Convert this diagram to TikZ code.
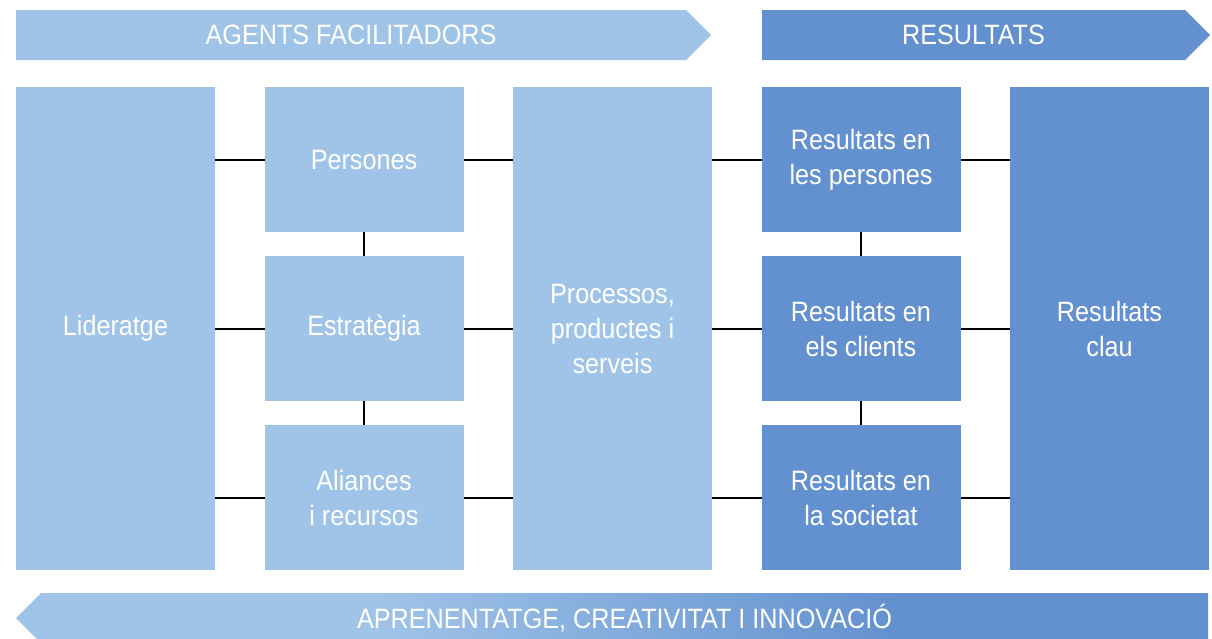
\documentclass[tikz,border=0pt]{standalone}
\usepackage{fontspec}
\setmainfont{Liberation Sans}[FakeStretch=0.9]
\usetikzlibrary{shapes.arrows,positioning}
\definecolor{lightblue}{RGB}{160,196,232}
\definecolor{darkblue}{RGB}{99,145,207}
\pgfdeclarehorizontalshading{learnshade}{100bp}{color(0bp)=(lightblue); color(40bp)=(lightblue); color(62bp)=(darkblue); color(100bp)=(darkblue)}
\newcommand\ys{24pt}
\newcommand\xs{49.5pt}
\begin{document}
\begin{tikzpicture}[x=1pt,y=-1pt,
		myarrow/.style={single arrow,single arrow head extend=0pt,single arrow tip angle=90,minimum width=50pt,inner sep=0pt,outer sep=0pt,text=white,font=\fontsize{28}{35}\selectfont},
		mybox/.style={rectangle,text=white,inner sep=0pt,outer sep=0pt,minimum width=199pt,align=center,font=\fontsize{28}{35}\selectfont},
		tallbox/.style={mybox,minimum height=483pt},
		smallbox/.style={mybox,minimum height=145pt}]
		\useasboundingbox (0,0) rectangle (1212,638);
		% columns
		\node(lid)[tallbox,fill=lightblue,anchor=north west] at (16,87) {Lideratge};
		\node(pers)[smallbox,fill=lightblue,anchor=north west] at ([xshift=\xs]lid.north east) {Persones};
		\node(estr)[smallbox,fill=lightblue,anchor=north] at ([yshift=-\ys]pers.south) {Estratègia};
		\node(alia)[smallbox,fill=lightblue,anchor=north] at ([yshift=-\ys]estr.south) {Aliances\\i recursos};
		\node(proc)[tallbox,fill=lightblue,anchor=north west] at ([xshift=\xs]pers.north east) {Processos,\\productes i\\serveis};
		\node(rpers)[smallbox,fill=darkblue,anchor=north west] at ([xshift=\xs]proc.north east) {Resultats en\\les persones};
		\node(rcli)[smallbox,fill=darkblue,anchor=north] at ([yshift=-\ys]rpers.south) {Resultats en\\els clients};
		\node(rsoc)[smallbox,fill=darkblue,anchor=north] at ([yshift=-\ys]rcli.south) {Resultats en\\la societat};
		\node(clau)[tallbox,fill=darkblue,anchor=north west] at ([xshift=\xs]rpers.north east) {Resultats\\clau};
		% arrows
		\node(agents)[myarrow,fill=lightblue,minimum height=695pt,anchor=tail] at (16,35) {AGENTS FACILITADORS};
		\node(result)[myarrow,fill=darkblue,minimum height=448pt,anchor=tail] at (762,35) {RESULTATS};
		\node(apren)[myarrow,shading=learnshade,shape border rotate=180,minimum height=1192pt,anchor=tail] at (1208,618) {APRENENTATGE, CREATIVITAT I INNOVACIÓ};
		% connectors
		\path [black, line width=2pt] (pers.west -| lid.east) edge (pers.west);
		\path [black, line width=2pt] (estr.west -| lid.east) edge (estr.west);
		\path [black, line width=2pt] (alia.west -| lid.east) edge (alia.west);
		\path [black, line width=2pt] (pers.east) edge (pers.east -| proc.west);
		\path [black, line width=2pt] (estr.east) edge (estr.east -| proc.west);
		\path [black, line width=2pt] (alia.east) edge (alia.east -| proc.west);
		\path [black, line width=2pt] (rpers.west -| proc.east) edge (rpers.west);
		\path [black, line width=2pt] (rcli.west -| proc.east) edge (rcli.west);
		\path [black, line width=2pt] (rsoc.west -| proc.east) edge (rsoc.west);
		\path [black, line width=2pt] (rpers.east) edge (rpers.east -| clau.west);
		\path [black, line width=2pt] (rcli.east) edge (rcli.east -| clau.west);
		\path [black, line width=2pt] (rsoc.east) edge (rsoc.east -| clau.west);
		\path [black, line width=2pt] (pers.south) edge (estr.north);
		\path [black, line width=2pt] (estr.south) edge (alia.north);
		\path [black, line width=2pt] (rpers.south) edge (rcli.north);
		\path [black, line width=2pt] (rcli.south) edge (rsoc.north);
	\end{tikzpicture}
\end{document}
